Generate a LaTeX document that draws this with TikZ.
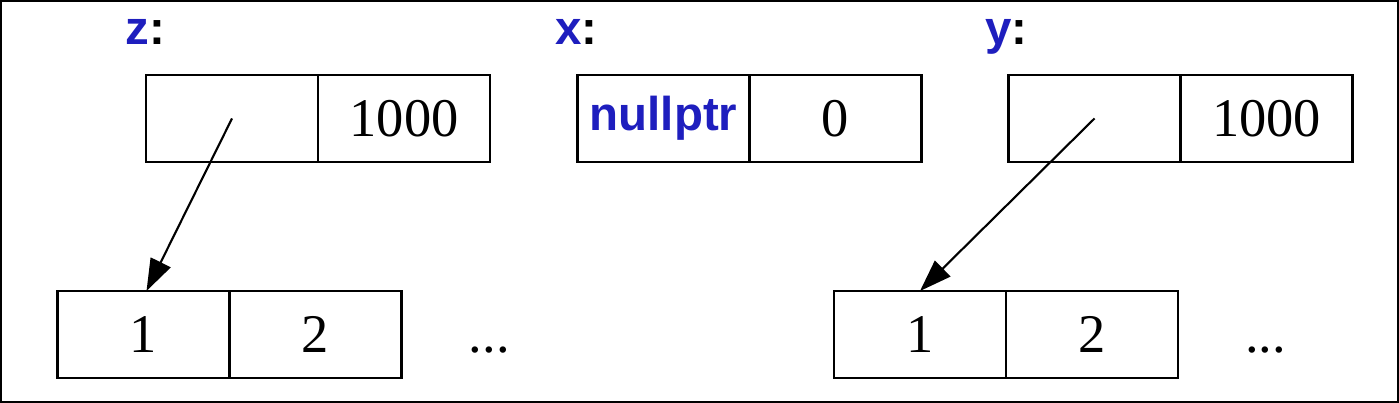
\documentclass[tikz,border=0pt]{standalone}
\usepackage{fontspec}
\setmainfont{Liberation Serif}
\setsansfont{Liberation Sans}
\usepackage{tikz}
\usetikzlibrary{positioning,arrows.meta,calc}
\definecolor{ptrblue}{RGB}{30,30,190}

\begin{document}
\begin{tikzpicture}[cell/.style={draw,line width=1.4pt,minimum width=3.44cm,minimum height=1.74cm,inner sep=0pt,outer sep=0pt,font=\fontsize{31}{36}\selectfont},
  varname/.style={anchor=base west,inner sep=0pt,font=\sffamily\bfseries\fontsize{27}{32}\selectfont},
  more/.style={anchor=base west,inner sep=0pt,font=\fontsize{31}{36}\selectfont},
  ptr/.style={-{Triangle[length=0.64cm,width=0.44cm]},line width=1.2pt}]
\useasboundingbox (0,0) rectangle (27.98,8.06);
\draw[line width=1.2pt] (0.02,0.02) rectangle (27.96,8.04);
\node[varname] (zname) at (2.5,7.16) {\textcolor{ptrblue}{z}:};
\node[varname] (xname) at (11.1,7.16) {\textcolor{ptrblue}{x}:};
\node[varname] (yname) at (19.7,7.16) {\textcolor{ptrblue}{y}:};
\node[cell] (zp) at (4.64,5.69) {};
\node[cell,right=0pt of zp] (zv) {1000};
\node[cell] (xp) at (13.27,5.69) {\sffamily\bfseries\fontsize{27}{32}\selectfont\textcolor{ptrblue}{nullptr}};
\node[cell,right=0pt of xp] (xv) {0};
\node[cell] (yp) at (21.89,5.69) {};
\node[cell,right=0pt of yp] (yv) {1000};
\node[cell] (a1) at (2.87,1.37) {1};
\node[cell,right=0pt of a1] (a2) {2};
\node[more] (adots) at ($(a2.east |- a2.base)+(1.34,0)$) {...};
\node[cell] (b1) at (18.40,1.37) {1};
\node[cell,right=0pt of b1] (b2) {2};
\node[more] (bdots) at ($(b2.east |- b2.base)+(1.34,0)$) {...};
\draw[ptr] (zp.center) -- ([xshift=0.06cm]a1.north);
\draw[ptr] (yp.center) -- (b1.north);
\end{tikzpicture}
\end{document}
